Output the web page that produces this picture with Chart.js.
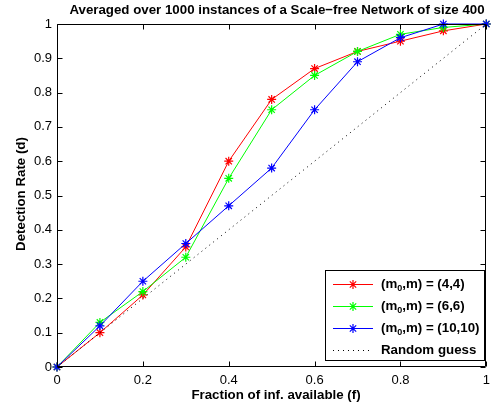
<!DOCTYPE html>
<html>
<head>
<meta charset="utf-8">
<script src="https://cdn.jsdelivr.net/npm/chart.js@4/dist/chart.umd.min.js"></script>
<style>
html,body{margin:0;padding:0;background:#fff;}
#wrap{width:492px;height:406px;position:relative;}
</style>
</head>
<body>
<div id="wrap"><canvas id="c" width="492" height="406"></canvas></div>
<script>
// ---- data ----
const fractions = [0, 0.1, 0.2, 0.3, 0.4, 0.5, 0.6, 0.7, 0.8, 0.9, 1.0];
const rate_4_4   = [0, 0.10, 0.21, 0.35, 0.60, 0.78, 0.87, 0.92, 0.95, 0.98, 1.00];
const rate_6_6   = [0, 0.13, 0.22, 0.32, 0.55, 0.75, 0.85, 0.92, 0.97, 0.99, 1.00];
const rate_10_10 = [0, 0.12, 0.25, 0.36, 0.47, 0.58, 0.75, 0.89, 0.96, 1.00, 1.00];
const guessX = [0, 1];
const guessY = [0, 1];
const xTicks = [0, 0.2, 0.4, 0.6, 0.8, 1];
const yTicks = [0, 0.1, 0.2, 0.3, 0.4, 0.5, 0.6, 0.7, 0.8, 0.9, 1];
const legendLabels = ["(4,4)", "(6,6)", "(10,10)"];
const titleText = "Averaged over 1000 instances of a Scale\u2212free Network of size 400";
const xTitle = "Fraction of inf. available (f)";
const yTitle = "Detection Rate (d)";

const FONT = "'Liberation Sans', Arial, Helvetica, sans-serif";
const BOLD = "bold 13.3px " + FONT;
const pts = (ys) => fractions.map((x, i) => ({x: x, y: ys[i]}));

function series(label, ys, color, order) {
  return {
    label: label, data: pts(ys), borderColor: color, backgroundColor: color,
    borderWidth: 1, pointStyle: 'star', pointRadius: 4.5, pointBorderWidth: 1.2,
    pointBorderColor: color, pointHoverRadius: 4.5, tension: 0, clip: false, order: order
  };
}

function drawStar(ctx, x, y, r, color) {
  ctx.save();
  ctx.strokeStyle = color; ctx.lineWidth = 1.2;
  ctx.beginPath();
  ctx.moveTo(x - r, y); ctx.lineTo(x + r, y);
  ctx.moveTo(x, y - r); ctx.lineTo(x, y + r);
  const d = r * Math.SQRT1_2;
  ctx.moveTo(x - d, y - d); ctx.lineTo(x + d, y + d);
  ctx.moveTo(x - d, y + d); ctx.lineTo(x + d, y - d);
  ctx.stroke();
  ctx.restore();
}

const decor = {
  id: 'decor',
  afterDraw(chart) {
    const ctx = chart.ctx;
    const a = chart.chartArea;
    const xs = chart.scales.x, ys = chart.scales.y;
    ctx.save();
    // box
    ctx.strokeStyle = '#000'; ctx.lineWidth = 1;
    const L = Math.round(a.left) + 0.5, R = Math.round(a.right) - 0.5;
    const T = Math.round(a.top) + 0.5, B = Math.round(a.bottom) - 0.5;
    ctx.beginPath();
    ctx.rect(L, T, R - L, B - T);
    ctx.stroke();
    // inward ticks
    const tl = 5;
    ctx.beginPath();
    xTicks.forEach(v => {
      const px = Math.round(xs.getPixelForValue(v)) + 0.5;
      ctx.moveTo(px, B); ctx.lineTo(px, B - tl);
      ctx.moveTo(px, T); ctx.lineTo(px, T + tl);
    });
    yTicks.forEach(v => {
      const py = Math.round(ys.getPixelForValue(v)) + 0.5;
      ctx.moveTo(L, py); ctx.lineTo(L + tl, py);
      ctx.moveTo(R, py); ctx.lineTo(R - tl, py);
    });
    ctx.stroke();
    // title
    ctx.fillStyle = '#000';
    ctx.font = BOLD;
    ctx.textAlign = 'center'; ctx.textBaseline = 'middle';
    ctx.fillText(titleText, 277, 10);
    // x title
    ctx.fillText(xTitle, 276, 395);
    // y title
    ctx.save();
    ctx.translate(21, 194);
    ctx.rotate(-Math.PI / 2);
    ctx.fillText(yTitle, 0, 0);
    ctx.restore();

    // legend
    const bx = 325.5, by = 270.5, bw = 159, bh = 90;
    ctx.fillStyle = '#fff';
    ctx.fillRect(bx, by, bw, bh);
    ctx.strokeStyle = '#000';
    ctx.strokeRect(bx, by, bw, bh);
    const rows = [284, 306, 328, 350];
    const colors = ['#ff0000', '#00ff00', '#0000ff'];
    ctx.textAlign = 'left'; ctx.textBaseline = 'middle';
    for (let i = 0; i < 3; i++) {
      const y = rows[i] + 0.5;
      ctx.strokeStyle = colors[i]; ctx.lineWidth = 1;
      ctx.beginPath(); ctx.moveTo(333, y); ctx.lineTo(373, y); ctx.stroke();
      drawStar(ctx, 353, y, 4.5, colors[i]);
      ctx.fillStyle = '#000';
      let tx = 381;
      ctx.font = BOLD;
      ctx.fillText("(m", tx, rows[i]); tx += ctx.measureText("(m").width;
      ctx.font = "bold 9px " + FONT;
      ctx.fillText("0", tx, rows[i] + 5); tx += ctx.measureText("0").width;
      ctx.font = BOLD;
      ctx.fillText(",m) = " + legendLabels[i], tx, rows[i]);
    }
    // random guess row
    const y4 = rows[3] + 0.5;
    ctx.strokeStyle = '#000';
    ctx.setLineDash([1, 4]);
    ctx.beginPath(); ctx.moveTo(333, y4); ctx.lineTo(373, y4); ctx.stroke();
    ctx.setLineDash([]);
    ctx.fillStyle = '#000';
    ctx.font = BOLD;
    ctx.fillText("Random guess", 381, rows[3]);
    ctx.restore();
  }
};

new Chart(document.getElementById('c'), {
  type: 'line',
  data: {
    datasets: [
      series('(m0,m) = (4,4)', rate_4_4, '#ff0000', 4),
      series('(m0,m) = (6,6)', rate_6_6, '#00ff00', 3),
      series('(m0,m) = (10,10)', rate_10_10, '#0000ff', 2),
      {
        label: 'Random guess', data: guessX.map((x, i) => ({x: x, y: guessY[i]})),
        borderColor: '#000', borderWidth: 1, borderDash: [1, 4], pointRadius: 0,
        tension: 0, order: 1
      }
    ]
  },
  options: {
    responsive: false, animation: false, devicePixelRatio: 1,
    layout: { padding: { left: 0, right: 2, top: 24, bottom: 0 } },
    plugins: { legend: { display: false }, title: { display: false }, tooltip: { enabled: false } },
    events: [],
    scales: {
      x: {
        type: 'linear', min: 0, max: 1,
        afterFit(s) { s.height = 39; s.paddingLeft = 0; s.paddingRight = 0; },
        afterBuildTicks(s) { s.ticks = xTicks.map(v => ({value: v})); },
        grid: { display: false, drawTicks: false },
        border: { display: false },
        ticks: { padding: 6, color: '#000', font: { family: FONT, size: 13 }, maxRotation: 0,
                 callback: v => String(+v.toFixed(1)) }
      },
      y: {
        type: 'linear', min: 0, max: 1,
        afterFit(s) { s.width = 57; s.paddingTop = 0; s.paddingBottom = 0; },
        afterBuildTicks(s) { s.ticks = yTicks.map(v => ({value: v})); },
        grid: { display: false, drawTicks: false },
        border: { display: false },
        ticks: { padding: 5, color: '#000', font: { family: FONT, size: 13 },
                 callback: v => String(+v.toFixed(1)) }
      }
    }
  },
  plugins: [decor]
});
</script>
</body>
</html>
